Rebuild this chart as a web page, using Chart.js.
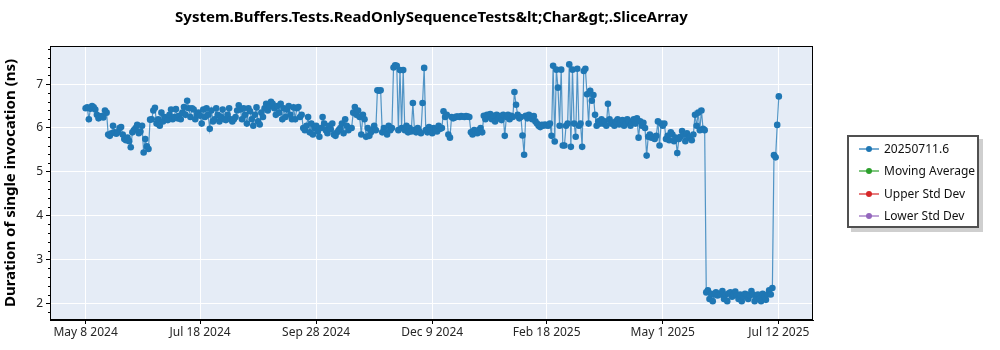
<!DOCTYPE html>
<html>
<head>
<meta charset="utf-8">
<script src="https://cdn.jsdelivr.net/npm/chart.js@4.4.1/dist/chart.umd.min.js"></script>
<style>
    body { margin: 0; background: #fff; font-family: "Noto Sans", sans-serif; }
    #wrap { position: relative; width: 1000px; height: 350px; }
    #legend {
        position: absolute; left: 847px; top: 135px; width: 128px; height: 89px;
        border: 2px solid #505050; background: #fff;
        box-shadow: 4px 4px 0 #cfcfcf; font-size: 12px; color: #111;
    }
    .row { position: absolute; left: 10px; height: 16px; line-height: 16px; white-space: nowrap; }
    .swatch { position: absolute; left: 0; top: 7px; width: 20px; height: 2px; opacity: 0.6; }
    .dot { position: absolute; left: 7px; top: 5px; width: 6px; height: 6px; border-radius: 50%; }
    .label { position: absolute; left: 25px; top: 0; }
</style>
</head>
<body>
<div id="wrap">
    <canvas id="chart" width="1000" height="350"></canvas>
    <div id="legend"></div>
</div>
<script>
// one value per day, starting May 8 2024
const startDay = '2024-05-08';
const durations = [
    6.45, 6.47, 6.2, 6.44, 6.5, 6.47, 6.42, 6.3, 6.22, 6.25,
    6.27, 6.24, 6.4, 6.35, 5.85, 5.82, 5.88, 6.05, 5.9, 5.87,
    5.9, 6.0, 6.02, 5.85, 5.75, 5.72, 5.78, 5.7, 5.56, 5.9,
    5.95, 6.0, 6.07, 5.88, 5.92, 6.05, 5.44, 5.75, 5.58, 5.52,
    6.19, 6.2, 6.4, 6.46, 6.1, 6.2, 6.05, 6.35, 6.15, 6.25,
    6.22, 6.18, 6.3, 6.42, 6.2, 6.25, 6.43, 6.22, 6.28, 6.2,
    6.35, 6.48, 6.3, 6.62, 6.45, 6.25, 6.45, 6.42, 6.2, 6.3,
    6.35, 6.28, 6.1, 6.42, 6.25, 6.45, 6.3, 5.98, 6.4, 6.15,
    6.2, 6.45, 6.3, 6.15, 6.25, 6.42, 6.2, 6.18, 6.3, 6.45,
    6.2, 6.15, 6.2, 6.25, 6.4, 6.52, 6.42, 6.2, 6.45, 6.3,
    6.1, 6.45, 6.38, 6.2, 6.05, 6.3, 6.47, 6.15, 6.08, 6.35,
    6.25, 6.45, 6.55, 6.4, 6.5, 6.6, 6.55, 6.45, 6.3, 6.5,
    6.35, 6.55, 6.2, 6.45, 6.25, 6.42, 6.5, 6.3, 6.2, 6.47,
    6.2, 6.45, 6.48, 6.25, 6.3, 6.0, 5.95, 6.05, 6.25, 5.9,
    6.1, 5.85, 6.0, 6.05, 5.92, 5.8, 6.0, 6.25, 6.1, 5.95,
    5.88, 6.05, 5.97, 6.1, 5.85, 5.82, 5.9, 5.95, 6.0, 6.1,
    5.88, 6.2, 6.05, 5.95, 6.0, 6.0, 6.35, 6.48, 6.3, 6.4,
    6.25, 5.85, 6.3, 6.2, 5.8, 6.0, 5.82, 5.9, 5.95, 6.05,
    5.95, 6.86, 6.85, 6.86, 5.9, 6.0, 5.9, 5.85, 6.05, 5.95,
    6.0, 7.38, 7.43, 7.42, 5.95, 7.32, 6.0, 7.32, 5.95, 6.05,
    5.9, 6.0, 5.92, 6.57, 5.95, 5.9, 6.0, 5.92, 5.88, 6.57,
    7.37, 5.95, 5.9, 6.02, 5.95, 5.88, 6.0, 5.95, 5.92, 6.05,
    5.98, 6.0, 6.38, 6.25, 6.3, 5.85, 5.78, 6.25, 6.22, 6.24,
    6.26, 6.26, 6.25, 6.27, 6.26, 6.25, 6.27, 6.26, 6.25, 5.9,
    5.85, 5.95, 5.93, 5.88, 5.95, 6.0, 5.9, 6.28, 6.2, 6.3,
    6.25, 6.32, 6.2, 6.28, 6.15, 6.3, 6.22, 6.27, 6.18, 6.3,
    5.82, 6.25, 6.3, 6.2, 6.28, 6.25, 6.82, 6.53, 6.3, 6.22,
    6.25, 5.83, 5.39, 6.28, 6.22, 6.3, 6.25, 6.2, 6.27, 6.15,
    6.1, 6.05, 6.02, 6.07, 6.05, 6.08, 6.06, 6.05, 6.1, 5.82,
    7.42, 5.69, 7.33, 6.92, 6.05, 7.33, 5.6, 5.6, 6.05, 6.1,
    7.45, 5.57, 7.33, 6.1, 5.8, 7.35, 6.05, 6.1, 5.57, 7.3,
    7.35, 6.77, 6.1, 6.85, 6.62, 6.75, 6.3, 6.05, 6.15, 6.1,
    6.2, 6.1, 6.15, 6.05, 6.55, 6.2, 6.1, 6.12, 6.05, 6.15,
    6.2, 6.08, 6.12, 6.18, 6.05, 6.1, 6.2, 6.15, 6.05, 6.12,
    6.2, 6.1, 6.22, 5.78, 6.15, 6.05, 6.12, 6.0, 5.37, 5.8,
    5.85, 5.78, 5.8, 5.75, 5.82, 6.15, 5.6, 6.1, 6.05, 6.1,
    5.75, 5.82, 5.72, 5.9, 5.85, 5.7, 5.78, 5.43, 5.75, 5.8,
    5.93, 5.85, 5.7, 5.88, 5.78, 5.8, 5.72, 5.85, 6.3, 6.05,
    6.35, 5.95, 6.4, 5.98, 5.95, 2.25, 2.3, 2.1, 2.22, 2.05,
    2.2, 2.25, 2.18, 2.22, 2.2, 2.28, 2.1, 2.2, 2.05, 2.23,
    2.25, 2.15, 2.2, 2.27, 2.18, 2.1, 2.2, 2.05, 2.15, 2.22,
    2.2, 2.1, 2.18, 2.28, 2.2, 2.05, 2.15, 2.2, 2.1, 2.05,
    2.22, 2.15, 2.08, 2.2, 2.3, 2.2, 2.35, 5.38, 5.33, 6.07,
    6.72
];

const tickLabels = ['May 8 2024', 'Jul 18 2024', 'Sep 28 2024', 'Dec 9 2024', 'Feb 18 2025', 'May 1 2025', 'Jul 12 2025'];
const tickDays = [0, 71, 143, 215, 286, 358, 430];
const yTicks = [2, 3, 4, 5, 6, 7];

const seriesNames = ['20250711.6', 'Moving Average', 'Upper Std Dev', 'Lower Std Dev'];
const seriesColors = ['#1f77b4', '#2ca02c', '#d62728', '#9467bd'];

const FONT = '"Noto Sans", sans-serif';

const points = durations.map((v, i) => ({ x: i, y: v }));

const datasets = seriesNames.map((name, i) => ({
    label: name,
    data: i === 0 ? points : [],
    borderColor: i === 0 ? 'rgba(31, 119, 180, 0.75)' : seriesColors[i],
    backgroundColor: seriesColors[i],
    pointBackgroundColor: seriesColors[i],
    borderWidth: 1.2,
    pointRadius: 3.3,
    pointBorderWidth: 0,
    pointHoverRadius: 3.3
}));

const plotDecor = {
    id: 'plotDecor',
    beforeDraw(chart) {
        const { ctx, chartArea: a } = chart;
        ctx.save();
        ctx.fillStyle = '#e5ecf6';
        ctx.fillRect(a.left, a.top, a.right - a.left, a.bottom - a.top);
        ctx.restore();
    },
    afterDatasetsDraw(chart) {
        const { ctx, chartArea: a, scales } = chart;
        ctx.save();
        ctx.strokeStyle = '#000';
        ctx.lineWidth = 1;
        ctx.strokeRect(Math.round(a.left) + 0.5, Math.round(a.top) + 0.5,
            Math.round(a.right - a.left) - 1, Math.round(a.bottom - a.top) - 1);
        // minor ticks on the y axis
        const y = scales.y;
        ctx.beginPath();
        for (let v = Math.ceil(y.min * 5) / 5; v <= y.max; v += 0.2) {
            const r = Math.round(v * 5) / 5;
            if (Math.abs(r - Math.round(r)) < 1e-6) continue;
            const py = Math.round(y.getPixelForValue(r)) + 0.5;
            ctx.moveTo(a.left - 2, py);
            ctx.lineTo(a.left, py);
        }
        ctx.stroke();
        ctx.restore();
    }
};

const chart = new Chart(document.getElementById('chart'), {
    type: 'line',
    data: { datasets: datasets },
    options: {
        responsive: false,
        animation: false,
        events: [],
        layout: { padding: { left: 0, right: 187, top: 0, bottom: 0 } },
        plugins: {
            legend: { display: false },
            tooltip: { enabled: false },
            title: {
                display: true,
                fullSize: false,
                text: 'System.Buffers.Tests.ReadOnlySequenceTests&lt;Char&gt;.SliceArray',
                color: '#000',
                font: { family: FONT, size: 15, weight: 'bold', lineHeight: 1.2 },
                padding: { top: 9, bottom: 19 }
            }
        },
        scales: {
            x: {
                type: 'linear',
                min: -22.1,
                max: 451.2,
                afterBuildTicks: scale => { scale.ticks = tickDays.map(v => ({ value: v })); },
                afterFit: scale => { scale.height = 30; },
                ticks: {
                    color: '#262626',
                    font: { family: FONT, size: 12 },
                    padding: 1,
                    maxRotation: 0,
                    callback: v => tickLabels[tickDays.indexOf(v)]
                },
                grid: { color: '#ffffff', lineWidth: 1, tickColor: '#000', tickLength: 4 },
                border: { color: '#000' }
            },
            y: {
                min: 1.62,
                max: 7.87,
                afterBuildTicks: scale => { scale.ticks = yTicks.map(v => ({ value: v })); },
                afterFit: scale => { scale.width = 50; },
                ticks: {
                    color: '#262626',
                    font: { family: FONT, size: 12 },
                    padding: 3
                },
                grid: { color: '#ffffff', lineWidth: 1, tickColor: '#000', tickLength: 4 },
                border: { color: '#000' },
                title: {
                    display: true,
                    text: 'Duration of single invocation (ns)',
                    color: '#000',
                    font: { family: FONT, size: 15, weight: 'bold' },
                    padding: { top: 2, bottom: 0 }
                }
            }
        }
    },
    plugins: [plotDecor]
});

// legend built from the chart datasets
const legend = document.getElementById('legend');
legend.innerHTML = chart.data.datasets.map((ds, i) => `
    <div class="row" style="top: ${4 + i * 22.3}px;">
        <div class="swatch" style="background: ${ds.backgroundColor};"></div>
        <div class="dot" style="background: ${ds.backgroundColor};"></div>
        <div class="label">${ds.label}</div>
    </div>
`).join('');
</script>
</body>
</html>
